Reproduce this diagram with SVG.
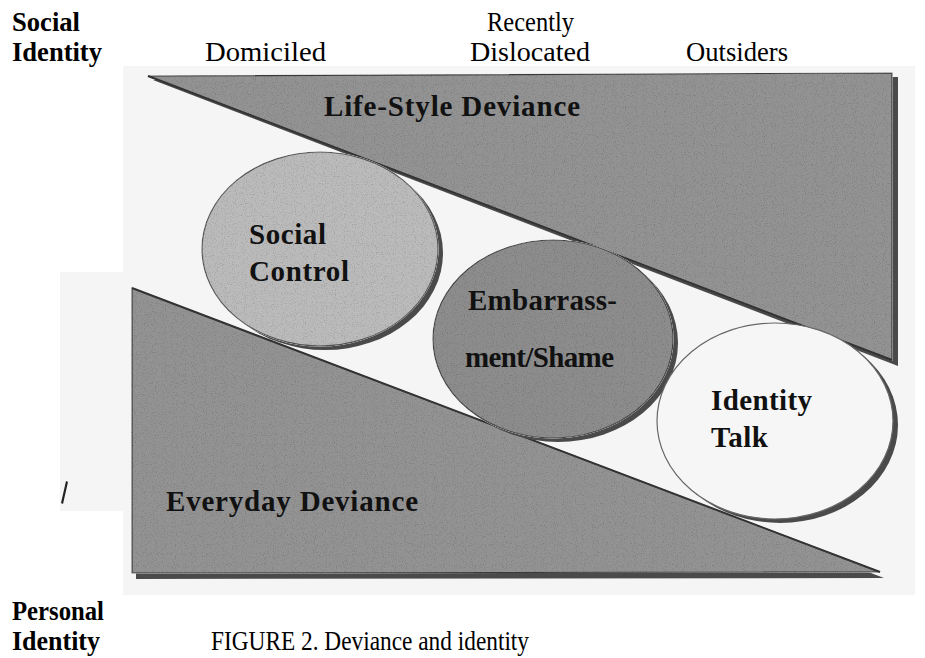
<svg xmlns="http://www.w3.org/2000/svg" width="925" height="658" viewBox="0 0 925 658">
  <defs>
    <filter id="grain" x="-5%" y="-5%" width="110%" height="110%">
      <feTurbulence type="fractalNoise" baseFrequency="0.9" numOctaves="2" seed="4" result="t"/>
      <feColorMatrix in="t" type="matrix" values="0.9 0 0 0 0.55  0.9 0 0 0 0.55  0.9 0 0 0 0.55  0 0 0 0 1" result="g"/>
      <feComposite in="g" in2="SourceGraphic" operator="in" result="gi"/>
      <feBlend in="SourceGraphic" in2="gi" mode="multiply"/>
    </filter>
  </defs>
  <style>
    .hdr { font-family: "Liberation Serif", "Times New Roman", serif; font-size: 27px; fill: #000; }
    .hdrb { font-family: "Liberation Serif", "Times New Roman", serif; font-size: 28px; font-weight: bold; fill: #000; }
    .lbl { font-family: "Liberation Serif", "Times New Roman", serif; font-size: 29px; font-weight: bold; fill: #111; }
    .shade { fill: #4a4a4a; }
    .tri { fill: #939393; stroke: #3a3a3a; stroke-width: 1.2; }
    .edge { stroke: #333; stroke-width: 2; fill: none; }
  </style>
  <rect width="925" height="658" fill="#ffffff"/>
  <g id="background">
    <rect x="123" y="66" width="792" height="529" fill="#f5f5f5"/>
    <rect x="60" y="272" width="64" height="239" fill="#f5f5f5"/>
    <path d="M61 503 L66 481 L68 482 L63 504 Z" fill="#222"/>
  </g>
  <g id="connectors"/>
  <g id="lifestyle-deviance">
    <polygon class="shade" points="153,80 898,77 898,366"/>
    <polygon class="tri" points="148,76 892,73 892,360" filter="url(#grain)"/>
    <line class="edge" x1="148" y1="76" x2="892" y2="360"/>
    <text class="lbl" x="324" y="116" textLength="256" lengthAdjust="spacing">Life-Style Deviance</text>
  </g>
  <g id="everyday-deviance">
    <polygon class="shade" points="136,293 136,579 884,578"/>
    <polygon class="tri" points="132,288 132,573 880,572" filter="url(#grain)"/>
    <line class="edge" x1="132" y1="288" x2="880" y2="572"/>
    <text class="lbl" x="166" y="511" textLength="252" lengthAdjust="spacing">Everyday Deviance</text>
  </g>
  <g id="social-control">
    <ellipse class="shade" cx="325" cy="253" rx="118" ry="97"/>
    <ellipse cx="320" cy="249" rx="118" ry="97" fill="#bbbbbb" stroke="#555" stroke-width="1.2" filter="url(#grain)"/>
    <text class="lbl" x="249" y="244" textLength="77" lengthAdjust="spacing">Social</text>
    <text class="lbl" x="249" y="281" textLength="100" lengthAdjust="spacing">Control</text>
  </g>
  <g id="embarrassment-shame">
    <ellipse class="shade" cx="558" cy="343" rx="120" ry="99"/>
    <ellipse cx="553" cy="339" rx="120" ry="99" fill="#8d8d8d" stroke="#444" stroke-width="1.2" filter="url(#grain)"/>
    <text class="lbl" x="468" y="310" textLength="149" lengthAdjust="spacing">Embarrass-</text>
    <text class="lbl" x="465" y="367" textLength="149" lengthAdjust="spacing">ment/Shame</text>
  </g>
  <g id="identity-talk">
    <ellipse class="shade" cx="780" cy="425" rx="118" ry="98"/>
    <ellipse cx="775" cy="421" rx="118" ry="98" fill="#f6f6f6" stroke="#666" stroke-width="1.2"/>
    <text class="lbl" x="711" y="410" textLength="101" lengthAdjust="spacing">Identity</text>
    <text class="lbl" x="711" y="447" textLength="57" lengthAdjust="spacing">Talk</text>
  </g>
  <g id="axis-labels">
    <text class="hdrb" x="12" y="31" textLength="68" lengthAdjust="spacingAndGlyphs">Social</text>
    <text class="hdrb" x="12" y="61" textLength="90" lengthAdjust="spacingAndGlyphs">Identity</text>
    <text class="hdr" x="205" y="61" textLength="121" lengthAdjust="spacingAndGlyphs">Domiciled</text>
    <text class="hdr" x="487" y="31" textLength="87" lengthAdjust="spacingAndGlyphs">Recently</text>
    <text class="hdr" x="470" y="61" textLength="120" lengthAdjust="spacingAndGlyphs">Dislocated</text>
    <text class="hdr" x="686" y="61" textLength="102" lengthAdjust="spacingAndGlyphs">Outsiders</text>
    <text class="hdrb" x="12" y="620" textLength="92" lengthAdjust="spacingAndGlyphs">Personal</text>
    <text class="hdrb" x="12" y="650" textLength="88" lengthAdjust="spacingAndGlyphs">Identity</text>
    <text class="hdr" x="211" y="650" textLength="318" lengthAdjust="spacingAndGlyphs">FIGURE 2. Deviance and identity</text>
  </g>
</svg>
